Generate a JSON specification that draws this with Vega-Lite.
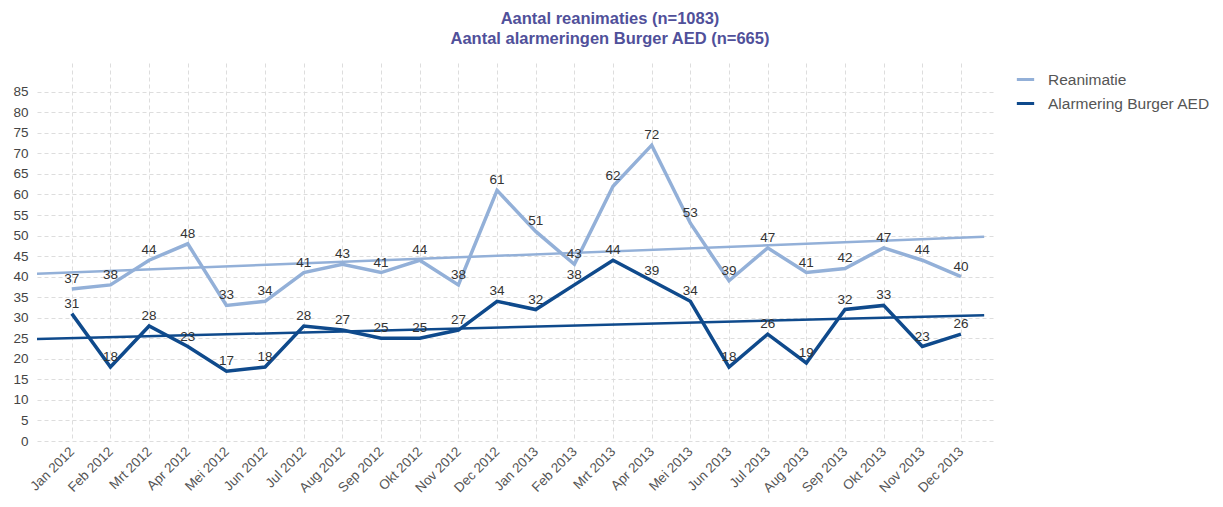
{
  "$schema": "https://vega.github.io/schema/vega-lite/v6.json",
  "autosize": {"type": "none"},
  "width": 958,
  "height": 378,
  "padding": {"left": 37, "top": 63, "right": 228, "bottom": 66},
  "background": "white",
  "title": {
    "text": ["Aantal reanimaties (n=1083)", "Aantal alarmeringen Burger AED (n=665)"],
    "anchor": "middle",
    "frame": "group",
    "dx": 94,
    "offset": 16,
    "font": "Liberation Sans",
    "fontSize": 16.5,
    "fontWeight": "bold",
    "color": "#50509a",
    "lineHeight": 20
  },
  "config": {
    "view": {"stroke": null},
    "font": "Liberation Sans"
  },
  "datasets": {
    "maanden": [
      {"i": 0, "maand": "Jan 2012", "serie": "Reanimatie", "waarde": 37},
      {"i": 1, "maand": "Feb 2012", "serie": "Reanimatie", "waarde": 38},
      {"i": 2, "maand": "Mrt 2012", "serie": "Reanimatie", "waarde": 44},
      {"i": 3, "maand": "Apr 2012", "serie": "Reanimatie", "waarde": 48},
      {"i": 4, "maand": "Mei 2012", "serie": "Reanimatie", "waarde": 33},
      {"i": 5, "maand": "Jun 2012", "serie": "Reanimatie", "waarde": 34},
      {"i": 6, "maand": "Jul 2012", "serie": "Reanimatie", "waarde": 41},
      {"i": 7, "maand": "Aug 2012", "serie": "Reanimatie", "waarde": 43},
      {"i": 8, "maand": "Sep 2012", "serie": "Reanimatie", "waarde": 41},
      {"i": 9, "maand": "Okt 2012", "serie": "Reanimatie", "waarde": 44},
      {"i": 10, "maand": "Nov 2012", "serie": "Reanimatie", "waarde": 38},
      {"i": 11, "maand": "Dec 2012", "serie": "Reanimatie", "waarde": 61},
      {"i": 12, "maand": "Jan 2013", "serie": "Reanimatie", "waarde": 51},
      {"i": 13, "maand": "Feb 2013", "serie": "Reanimatie", "waarde": 43},
      {"i": 14, "maand": "Mrt 2013", "serie": "Reanimatie", "waarde": 62},
      {"i": 15, "maand": "Apr 2013", "serie": "Reanimatie", "waarde": 72},
      {"i": 16, "maand": "Mei 2013", "serie": "Reanimatie", "waarde": 53},
      {"i": 17, "maand": "Jun 2013", "serie": "Reanimatie", "waarde": 39},
      {"i": 18, "maand": "Jul 2013", "serie": "Reanimatie", "waarde": 47},
      {"i": 19, "maand": "Aug 2013", "serie": "Reanimatie", "waarde": 41},
      {"i": 20, "maand": "Sep 2013", "serie": "Reanimatie", "waarde": 42},
      {"i": 21, "maand": "Okt 2013", "serie": "Reanimatie", "waarde": 47},
      {"i": 22, "maand": "Nov 2013", "serie": "Reanimatie", "waarde": 44},
      {"i": 23, "maand": "Dec 2013", "serie": "Reanimatie", "waarde": 40},
      {"i": 0, "maand": "Jan 2012", "serie": "Alarmering Burger AED", "waarde": 31},
      {"i": 1, "maand": "Feb 2012", "serie": "Alarmering Burger AED", "waarde": 18},
      {"i": 2, "maand": "Mrt 2012", "serie": "Alarmering Burger AED", "waarde": 28},
      {"i": 3, "maand": "Apr 2012", "serie": "Alarmering Burger AED", "waarde": 23},
      {"i": 4, "maand": "Mei 2012", "serie": "Alarmering Burger AED", "waarde": 17},
      {"i": 5, "maand": "Jun 2012", "serie": "Alarmering Burger AED", "waarde": 18},
      {"i": 6, "maand": "Jul 2012", "serie": "Alarmering Burger AED", "waarde": 28},
      {"i": 7, "maand": "Aug 2012", "serie": "Alarmering Burger AED", "waarde": 27},
      {"i": 8, "maand": "Sep 2012", "serie": "Alarmering Burger AED", "waarde": 25},
      {"i": 9, "maand": "Okt 2012", "serie": "Alarmering Burger AED", "waarde": 25},
      {"i": 10, "maand": "Nov 2012", "serie": "Alarmering Burger AED", "waarde": 27},
      {"i": 11, "maand": "Dec 2012", "serie": "Alarmering Burger AED", "waarde": 34},
      {"i": 12, "maand": "Jan 2013", "serie": "Alarmering Burger AED", "waarde": 32},
      {"i": 13, "maand": "Feb 2013", "serie": "Alarmering Burger AED", "waarde": 38},
      {"i": 14, "maand": "Mrt 2013", "serie": "Alarmering Burger AED", "waarde": 44},
      {"i": 15, "maand": "Apr 2013", "serie": "Alarmering Burger AED", "waarde": 39},
      {"i": 16, "maand": "Mei 2013", "serie": "Alarmering Burger AED", "waarde": 34},
      {"i": 17, "maand": "Jun 2013", "serie": "Alarmering Burger AED", "waarde": 18},
      {"i": 18, "maand": "Jul 2013", "serie": "Alarmering Burger AED", "waarde": 26},
      {"i": 19, "maand": "Aug 2013", "serie": "Alarmering Burger AED", "waarde": 19},
      {"i": 20, "maand": "Sep 2013", "serie": "Alarmering Burger AED", "waarde": 32},
      {"i": 21, "maand": "Okt 2013", "serie": "Alarmering Burger AED", "waarde": 33},
      {"i": 22, "maand": "Nov 2013", "serie": "Alarmering Burger AED", "waarde": 23},
      {"i": 23, "maand": "Dec 2013", "serie": "Alarmering Burger AED", "waarde": 26}
    ],
    "trend": [
      {"i": -0.9, "serie": "Reanimatie", "waarde": 40.7},
      {"i": 23.6, "serie": "Reanimatie", "waarde": 49.7},
      {"i": -0.9, "serie": "Alarmering Burger AED", "waarde": 24.8},
      {"i": 23.6, "serie": "Alarmering Burger AED", "waarde": 30.6}
    ]
  },
  "encoding": {
    "x": {
      "field": "i",
      "type": "quantitative",
      "scale": {"domain": [-0.9, 23.88], "nice": false, "zero": false},
      "axis": {
        "title": null,
        "values": [0,1,2,3,4,5,6,7,8,9,10,11,12,13,14,15,16,17,18,19,20,21,22,23],
        "labelExpr": "['Jan 2012','Feb 2012','Mrt 2012','Apr 2012','Mei 2012','Jun 2012','Jul 2012','Aug 2012','Sep 2012','Okt 2012','Nov 2012','Dec 2012','Jan 2013','Feb 2013','Mrt 2013','Apr 2013','Mei 2013','Jun 2013','Jul 2013','Aug 2013','Sep 2013','Okt 2013','Nov 2013','Dec 2013'][datum.value]",
        "labelAngle": -45,
        "labelAlign": "right",
        "labelBaseline": "middle",
        "labelPadding": 8,
        "labelFontSize": 13.5,
        "labelColor": "#555555",
        "labelFont": "Liberation Sans",
        "domain": false,
        "ticks": false,
        "grid": true,
        "gridColor": "#dddddd",
        "gridDash": [4, 3],
        "labelOverlap": false,
        "labelBound": false
      }
    },
    "y": {
      "field": "waarde",
      "type": "quantitative",
      "scale": {"domain": [0, 92], "nice": false},
      "axis": {
        "title": null,
        "values": [0,5,10,15,20,25,30,35,40,45,50,55,60,65,70,75,80,85],
        "labelPadding": 9,
        "labelFontSize": 13.5,
        "labelColor": "#444444",
        "labelFont": "Liberation Sans",
        "domain": false,
        "ticks": false,
        "grid": true,
        "gridColor": "#dddddd",
        "gridDash": [4, 3]
      }
    },
    "color": {
      "field": "serie",
      "type": "nominal",
      "scale": {
        "domain": ["Reanimatie", "Alarmering Burger AED"],
        "range": ["#93b0d8", "#0f4a8c"]
      },
      "legend": {
        "title": null,
        "orient": "none",
        "legendX": 978,
        "legendY": 6,
        "symbolType": "stroke",
        "symbolStrokeWidth": 3,
        "symbolSize": 300,
        "labelFontSize": 15.5,
        "labelLimit": 400,
        "labelColor": "#555555",
        "labelFont": "Liberation Sans",
        "rowPadding": 5,
        "labelOffset": 12
      }
    }
  },
  "layer": [
    {
      "data": {"name": "trend"},
      "mark": {"type": "line", "strokeWidth": 2.5, "clip": true}
    },
    {
      "data": {"name": "maanden"},
      "mark": {"type": "line", "strokeWidth": 3.5}
    },
    {
      "data": {"name": "maanden"},
      "mark": {"type": "text", "dy": -10, "fontSize": 13.5, "font": "Liberation Sans", "baseline": "middle"},
      "encoding": {
        "text": {"field": "waarde", "type": "quantitative"},
        "color": {"value": "#333333"}
      }
    }
  ]
}
